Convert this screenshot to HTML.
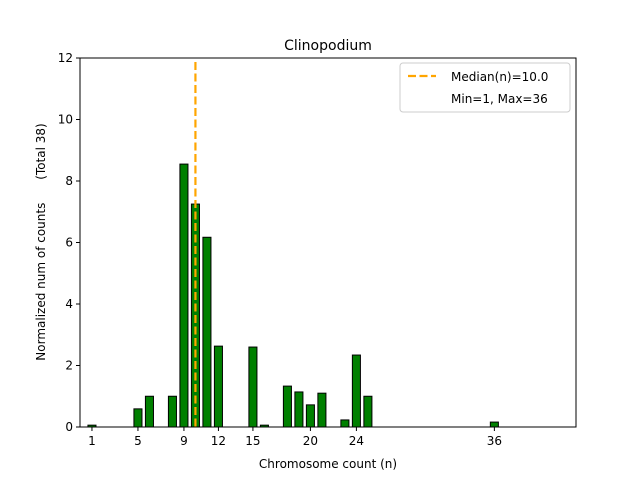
<!DOCTYPE html>
<html><head><meta charset="utf-8"><style>
body{margin:0;background:#fff;font-family:"Liberation Sans","DejaVu Sans",sans-serif}
svg text{font-family:"DejaVu Sans","Liberation Sans",sans-serif;fill:#000}
</style></head><body>
<svg id="chart" width="640" height="480" viewBox="0 0 640 480" xmlns="http://www.w3.org/2000/svg">
<rect width="640" height="480" fill="#fff"/>
<text x="328" y="50" font-size="14" text-anchor="middle">Clinopodium</text>
<g id="bars"></g>
<g id="xticks"></g>
<g id="yticks"></g>
<line id="median" stroke="#ffa500" stroke-width="2.2" stroke-dasharray="8,3.5"/>
<rect x="80" y="58" width="496" height="369" fill="none" stroke="#000" stroke-width="1"/>
<text x="328" y="468" font-size="12" text-anchor="middle">Chromosome count (n)</text>
<text transform="translate(45,242) rotate(-90)" font-size="12" text-anchor="middle" xml:space="preserve" style="white-space:pre">Normalized num of counts      (Total 38)</text>
<g>
<rect x="400" y="63" width="170" height="49" rx="3" fill="#fff" stroke="#ccc"/>
<line x1="408" y1="76" x2="436" y2="76" stroke="#ffa500" stroke-width="2.2" stroke-dasharray="8,3.5"/>
<text x="451" y="81" font-size="12">Median(n)=10.0</text>
<text x="451" y="103" font-size="12">Min=1, Max=36</text>
</g>
</svg>
<script>
const categories=[1,5,6,8,9,10,11,12,15,16,18,19,20,21,23,24,25,36];
const values=[0.06,0.59,1.0,1.0,8.55,7.25,6.17,2.63,2.6,0.06,1.33,1.14,0.72,1.1,0.23,2.34,1.0,0.16];
const xTickLabels=[1,5,9,12,15,20,24,36];
const yTickLabels=[0,2,4,6,8,10,12];
const median=10.0;
const X0=80,X1=576,Y0=427,Y1=58,XMIN=-0.04,XMAX=43.1,YMAX=12;
const sx=v=>X0+(v-XMIN)/(XMAX-XMIN)*(X1-X0);
const sy=v=>Y0-v/YMAX*(Y0-Y1);
const NS="http://www.w3.org/2000/svg";
const mk=(t,a)=>{const e=document.createElementNS(NS,t);for(const k in a)e.setAttribute(k,a[k]);return e;};
const bw=0.7*(X1-X0)/(XMAX-XMIN);
const bars=document.getElementById('bars');
categories.forEach((c,i)=>{
 const r=mk('rect',{x:sx(c)-bw/2,y:sy(values[i]),width:bw,height:sy(0)-sy(values[i]),fill:'#008000',stroke:'#000','stroke-width':1});
 
 
 bars.appendChild(r);
});
const xt=document.getElementById('xticks');
xTickLabels.forEach(v=>{
 const x=sx(v);
 xt.appendChild(mk('line',{x1:x,x2:x,y1:Y0,y2:Y0+4,stroke:'#000'}));
 const t=mk('text',{x:x,y:Y0+18,'font-size':12,'text-anchor':'middle'});
 t.textContent=v;
 
 
 xt.appendChild(t);
});
const yt=document.getElementById('yticks');
yTickLabels.forEach(v=>{
 const y=sy(v);
 yt.appendChild(mk('line',{x1:X0-4,x2:X0,y1:y,y2:y,stroke:'#000'}));
 const t=mk('text',{x:X0-7,y:y+4,'font-size':12,'text-anchor':'end'});
 t.textContent=v;
 
 
 yt.appendChild(t);
});
const m=document.getElementById('median');
m.setAttribute('x1',sx(median));m.setAttribute('x2',sx(median));
m.setAttribute('y1',sy(YMAX)+4);m.setAttribute('y2',sy(0));
</script>
</body></html>
